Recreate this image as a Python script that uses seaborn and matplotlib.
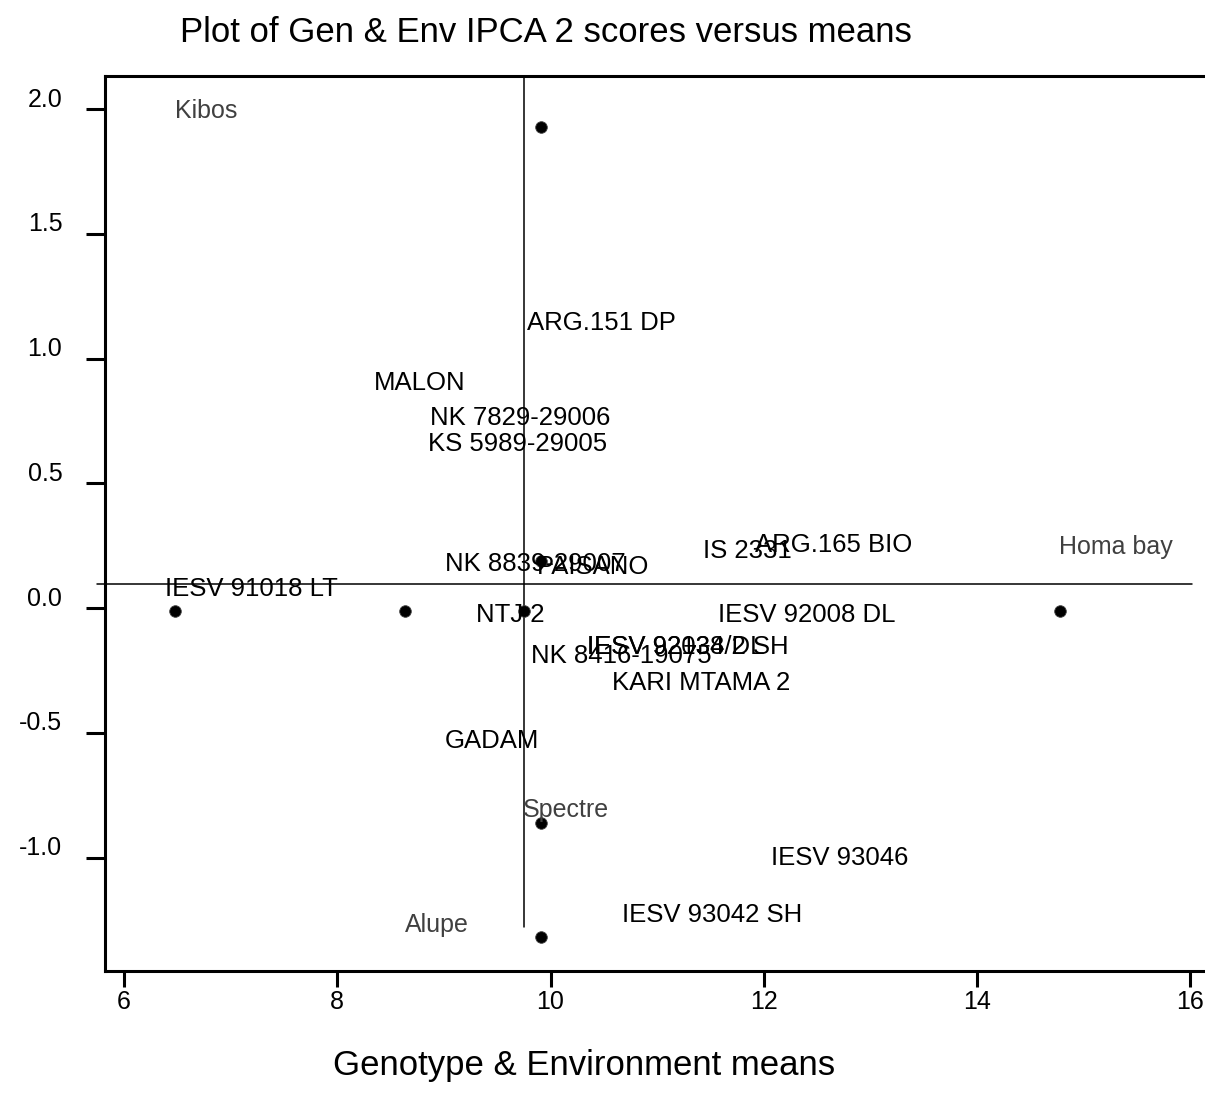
import numpy as np
import pandas as pd
import seaborn as sns
import matplotlib.pyplot as plt
import matplotlib.transforms as mtransforms

# environment / genotype data
dot_x = [9.91, 9.91, 6.48, 8.63, 9.75, 14.78, 9.91, 9.91]
dot_y = [1.93, 0.19, -0.01, -0.01, -0.01, -0.01, -0.86, -1.32]

env_names = ["Kibos", "Homa bay", "Spectre", "Alupe"]
env_x = [6.48, 14.77, 9.74, 8.63]
env_y = [1.994, 0.245, -0.81, -1.271]

gen_names = ["ARG.151 DP", "MALON", "NK 7829-29006", "KS 5989-29005",
             "NK 8839-29007", "PAISANO", "IS 2331", "ARG.165 BIO",
             "IESV 91018 LT", "NTJ 2", "IESV 92008 DL", "IESV 92134 DL",
             "IESV 92038/2 SH", "NK 8416-19075", "KARI MTAMA 2", "GADAM",
             "IESV 93046", "IESV 93042 SH"]
gen_x = [9.775, 8.34, 8.87, 8.85, 9.01, 9.87, 11.43, 11.92, 6.38, 9.30,
         11.57, 10.34, 10.34, 9.82, 10.58, 9.01, 12.07, 10.67]
gen_y = [1.143, 0.902, 0.762, 0.658, 0.176, 0.164, 0.229, 0.253, 0.076,
         -0.028, -0.028, -0.156, -0.156, -0.192, -0.301, -0.533, -1.002, -1.231]

grand_mean = 9.75
mean_score = 0.095

x_ticks = [6, 8, 10, 12, 14, 16]
y_ticks = [-1.0, -0.5, 0.0, 0.5, 1.0, 1.5, 2.0]
y_tick_labels = ["-1.0", "-0.5", "0.0", "0.5", "1.0", "1.5", "2.0"]

sns.set_style("ticks")
plt.rcParams['font.family'] = ['Liberation Sans', 'DejaVu Sans']
plt.rcParams['text.color'] = 'black'
plt.rcParams['xtick.color'] = 'black'
plt.rcParams['ytick.color'] = 'black'

fig = plt.figure(figsize=(12.05, 11.05), dpi=100)
ax = fig.add_axes([105 / 1205, 1 - 971 / 1105, 1100 / 1205, 895 / 1105])

df = pd.DataFrame({"x": dot_x, "y": dot_y})
sns.scatterplot(data=df, x="x", y="y", ax=ax, color="black", s=70,
                edgecolor="#444444", linewidth=0.6, zorder=3)

ax.set_xlim(5.82, 16.14)
ax.set_ylim(-1.455, 2.133)

# reference lines
ax.plot([5.744, 16.015], [mean_score, mean_score], color="black", lw=1.1, clip_on=False)
ax.plot([grand_mean, grand_mean], [-1.278, 2.133], color="black", lw=1.1)

for name, x, y in zip(gen_names, gen_x, gen_y):
    ax.text(x, y, name, ha="left", va="center", fontsize=18.5, color="black")
for name, x, y in zip(env_names, env_x, env_y):
    ax.text(x, y, name, ha="left", va="center", fontsize=18, color="#404040")

for side in ["left", "top", "bottom"]:
    ax.spines[side].set_linewidth(2.2)
    ax.spines[side].set_color("black")
ax.spines["right"].set_visible(False)

ax.set_xticks(x_ticks)
ax.set_xticklabels([str(t) for t in x_ticks])
ax.set_yticks(y_ticks)
ax.set_yticklabels(y_tick_labels)
ax.tick_params(axis="x", direction="out", length=11.5, width=2.2, labelsize=18,
               pad=2, labelcolor="black")
ax.tick_params(axis="y", direction="out", length=13.7, width=2.2, labelsize=18,
               pad=17, labelcolor="black")

offset = mtransforms.ScaledTranslation(0, 12 / 100, fig.dpi_scale_trans)
for lab in ax.get_yticklabels():
    lab.set_transform(lab.get_transform() + offset)

ax.set_xlabel("")
ax.set_ylabel("")

fig.text(546 / 1205, 1 - 33 / 1105, "Plot of Gen & Env IPCA 2 scores versus means",
         ha="center", va="center", fontsize=25, color="black")
fig.text(584 / 1205, 1 - 1065 / 1105, "Genotype & Environment means",
         ha="center", va="center", fontsize=25, color="black")

fig.savefig("out.png", dpi=100)
plt.close(fig)
